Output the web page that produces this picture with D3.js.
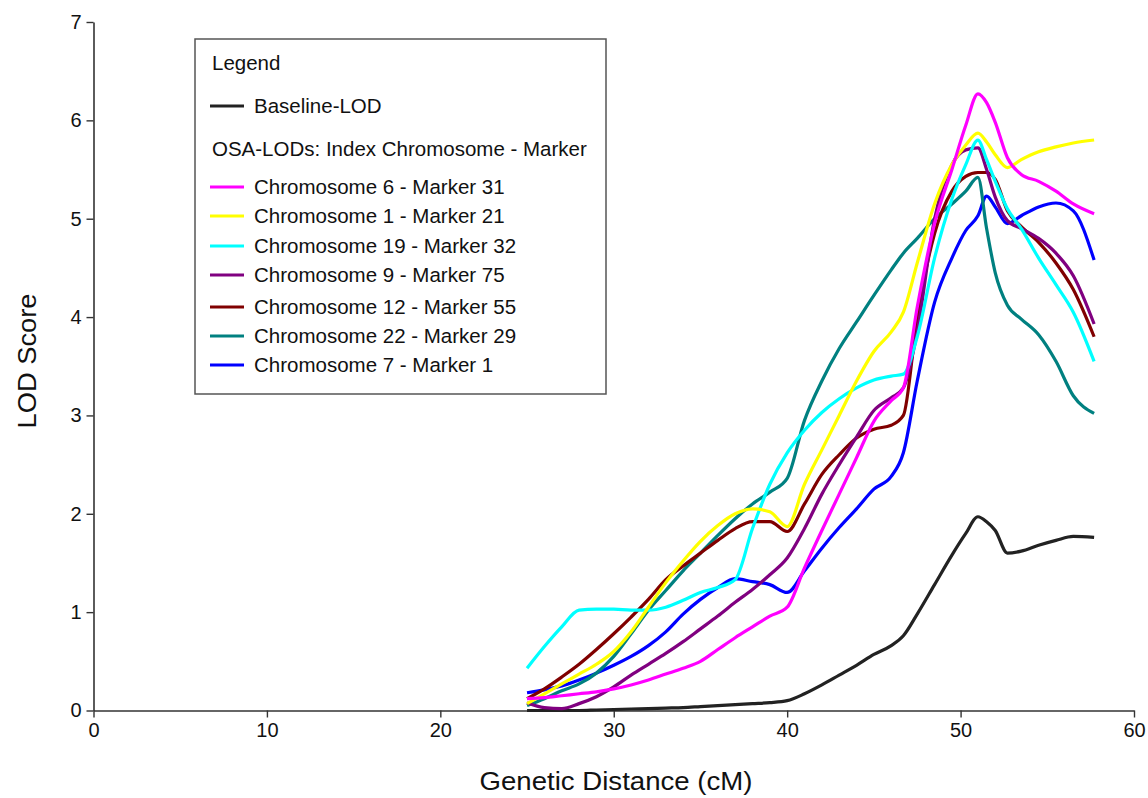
<!DOCTYPE html>
<html>
<head>
<meta charset="utf-8">
<script src="https://cdn.jsdelivr.net/npm/d3@7"></script>
<style>
  body { margin: 0; background: #fff; }
  text { font-family: "Liberation Sans", Arial, sans-serif; }
</style>
</head>
<body>
<div id="chart"></div>
<script>
// shared x grid (cM)
var distances = [25, 26, 27, 28, 29, 30, 31, 32, 33, 34, 35, 36, 37, 38, 39, 40, 41, 42, 43, 44, 45, 46, 46.7, 47.5, 48.5, 49.5, 50.3, 51, 51.5, 52, 52.7, 53.5, 54.5, 55.5, 56.5, 57.7];

var baselineLOD = [0, 0, 0, 0, 0.005, 0.01, 0.015, 0.02, 0.025, 0.03, 0.04, 0.05, 0.06, 0.07, 0.08, 0.1, 0.17, 0.26, 0.36, 0.46, 0.57, 0.66, 0.76, 0.98, 1.28, 1.58, 1.8, 1.97, 1.92, 1.83, 1.6, 1.62, 1.68, 1.73, 1.77, 1.76];
var chr6m31 = [0.12, 0.13, 0.15, 0.17, 0.19, 0.22, 0.26, 0.31, 0.37, 0.43, 0.5, 0.62, 0.74, 0.85, 0.96, 1.05, 1.45, 1.83, 2.2, 2.57, 2.94, 3.15, 3.28, 4.1, 4.95, 5.5, 5.95, 6.27, 6.18, 5.98, 5.62, 5.45, 5.38, 5.28, 5.15, 5.05];
var chr1m21 = [0.07, 0.17, 0.27, 0.37, 0.47, 0.6, 0.8, 1.05, 1.3, 1.52, 1.72, 1.88, 2.0, 2.05, 2.02, 1.87, 2.3, 2.65, 3.0, 3.35, 3.65, 3.85, 4.05, 4.55, 5.15, 5.55, 5.75, 5.87, 5.78, 5.65, 5.52, 5.6, 5.68, 5.73, 5.77, 5.8];
var chr19m32 = [0.43, 0.65, 0.85, 1.02, 1.03, 1.03, 1.02, 1.02, 1.05, 1.12, 1.2, 1.25, 1.33, 1.85, 2.3, 2.62, 2.85, 3.03, 3.17, 3.28, 3.36, 3.4, 3.42, 3.8, 4.6, 5.2, 5.55, 5.8, 5.6, 5.38, 5.1, 4.9, 4.6, 4.33, 4.05, 3.55];
var chr9m75 = [0.08, 0.03, 0.02, 0.07, 0.14, 0.24, 0.36, 0.47, 0.58, 0.7, 0.83, 0.96, 1.1, 1.23, 1.38, 1.55, 1.85, 2.2, 2.5, 2.78, 3.05, 3.18, 3.28, 3.85, 5.0, 5.55, 5.7, 5.72, 5.5, 5.22, 4.98, 4.9, 4.8, 4.65, 4.42, 3.93];
var chr12m55 = [0.12, 0.22, 0.34, 0.47, 0.62, 0.78, 0.95, 1.13, 1.33, 1.47, 1.6, 1.73, 1.85, 1.92, 1.92, 1.82, 2.1, 2.4, 2.6, 2.77, 2.86, 2.9, 3.0, 4.0, 4.85, 5.28, 5.43, 5.47, 5.47, 5.4, 5.08, 4.92, 4.76, 4.55, 4.28, 3.8];
var chr22m29 = [0.05, 0.12, 0.2, 0.27, 0.38, 0.55, 0.78, 1.02, 1.22, 1.42, 1.6, 1.78, 1.95, 2.1, 2.22, 2.36, 2.95, 3.35, 3.68, 3.95, 4.22, 4.48, 4.65, 4.8, 5.0, 5.15, 5.28, 5.42, 4.9, 4.45, 4.12, 3.98, 3.82, 3.55, 3.2, 3.02];
var chr7m1 = [0.18, 0.21, 0.25, 0.31, 0.38, 0.46, 0.55, 0.66, 0.8, 0.98, 1.13, 1.25, 1.34, 1.31, 1.28, 1.2, 1.42, 1.65, 1.86, 2.05, 2.25, 2.38, 2.62, 3.35, 4.15, 4.6, 4.88, 5.03, 5.23, 5.12, 4.95, 5.03, 5.12, 5.16, 5.08, 4.58];

var seriesNames = ['Chromosome 6 - Marker 31', 'Chromosome 1 - Marker 21', 'Chromosome 19 - Marker 32', 'Chromosome 9 - Marker 75', 'Chromosome 12 - Marker 55', 'Chromosome 22 - Marker 29', 'Chromosome 7 - Marker 1'];
var seriesColors = ['#ff00ff', '#ffff00', '#00ffff', '#800080', '#800000', '#008080', '#0000ff'];
var seriesValues = [chr6m31, chr1m21, chr19m32, chr9m75, chr12m55, chr22m29, chr7m1];

var xTicks = [0, 10, 20, 30, 40, 50, 60];
var yTicks = [0, 1, 2, 3, 4, 5, 6, 7];

var width = 1148;
var height = 798;

var svg = d3.select('#chart')
    .append('svg')
    .attr('width', width)
    .attr('height', height);

var x = d3.scaleLinear().domain([0, 60]).range([93.5, 1134]);
var y = d3.scaleLinear().domain([0, 7]).range([710.5, 22]);

// axes
var xAxis = svg.append('g')
    .attr('transform', 'translate(0,' + y(0) + ')')
    .call(d3.axisBottom(x).tickValues(xTicks).tickFormat(d3.format('d')).tickSize(7).tickPadding(5).tickSizeOuter(0));
var yAxis = svg.append('g')
    .attr('transform', 'translate(' + x(0) + ',0)')
    .call(d3.axisLeft(y).tickValues(yTicks).tickFormat(d3.format('d')).tickSize(7).tickPadding(5).tickSizeOuter(0));

[xAxis, yAxis].forEach(function(g) {
    g.select('.domain').attr('stroke', '#333').attr('stroke-width', 1.6);
    g.selectAll('.tick line').attr('stroke', '#333').attr('stroke-width', 1.4);
    g.selectAll('.tick text')
        .attr('fill', '#111')
        .style('font-family', '"Liberation Sans", Arial, sans-serif')
        .style('font-size', '20px');
});

// axis titles
svg.append('text')
    .attr('x', 616)
    .attr('y', 790)
    .attr('text-anchor', 'middle')
    .style('font-size', '25px')
    .attr('textLength', 273)
    .attr('lengthAdjust', 'spacingAndGlyphs')
    .attr('fill', '#111')
    .text('Genetic Distance (cM)');

svg.append('text')
    .attr('transform', 'translate(36,361) rotate(-90)')
    .attr('text-anchor', 'middle')
    .style('font-size', '26px')
    .attr('textLength', 135)
    .attr('lengthAdjust', 'spacingAndGlyphs')
    .attr('fill', '#111')
    .text('LOD Score');

// lines
var line = d3.line()
    .x(function(d, i) { return x(distances[i]); })
    .y(function(d) { return y(d); })
    .curve(d3.curveMonotoneX);

svg.append('path')
    .datum(baselineLOD)
    .attr('d', line)
    .attr('fill', 'none')
    .attr('stroke', '#222')
    .attr('stroke-width', 3.2);

// draw in reverse so magenta ends up on top
for (var s = seriesValues.length - 1; s >= 0; s--) {
    svg.append('path')
        .datum(seriesValues[s])
        .attr('d', line)
        .attr('fill', 'none')
        .attr('stroke', seriesColors[s])
        .attr('stroke-width', 3.2)
        .attr('stroke-linejoin', 'round');
}

// legend
var legend = svg.append('g');
legend.append('rect')
    .attr('x', 195)
    .attr('y', 39)
    .attr('width', 411)
    .attr('height', 355)
    .attr('fill', '#fff')
    .attr('stroke', '#555')
    .attr('stroke-width', 1.5);

legend.append('text')
    .attr('x', 212)
    .attr('y', 70)
    .style('font-size', '20.5px')
    .attr('fill', '#111')
    .text('Legend');

legend.append('line')
    .attr('x1', 210).attr('x2', 244)
    .attr('y1', 106).attr('y2', 106)
    .attr('stroke', '#222')
    .attr('stroke-width', 3);
legend.append('text')
    .attr('x', 254)
    .attr('y', 113)
    .style('font-size', '20.5px')
    .attr('fill', '#111')
    .text('Baseline-LOD');

legend.append('text')
    .attr('x', 212)
    .attr('y', 156)
    .style('font-size', '20.5px')
    .attr('fill', '#111')
    .text('OSA-LODs: Index Chromosome - Marker');

var legendY = [187, 216, 246, 275, 307, 336, 365];
var items = legend.selectAll('g.item')
    .data(seriesNames)
    .enter()
    .append('g')
    .attr('class', 'item')
    .attr('transform', function(d, i) { return 'translate(0,' + legendY[i] + ')'; });

items.append('line')
    .attr('x1', 210).attr('x2', 244)
    .attr('y1', 0).attr('y2', 0)
    .attr('stroke', function(d, i) { return seriesColors[i]; })
    .attr('stroke-width', 3);

items.append('text')
    .attr('x', 254)
    .attr('y', 7)
    .style('font-size', '20.5px')
    .attr('fill', '#111')
    .text(function(d) { return d; });
</script>
</body>
</html>
